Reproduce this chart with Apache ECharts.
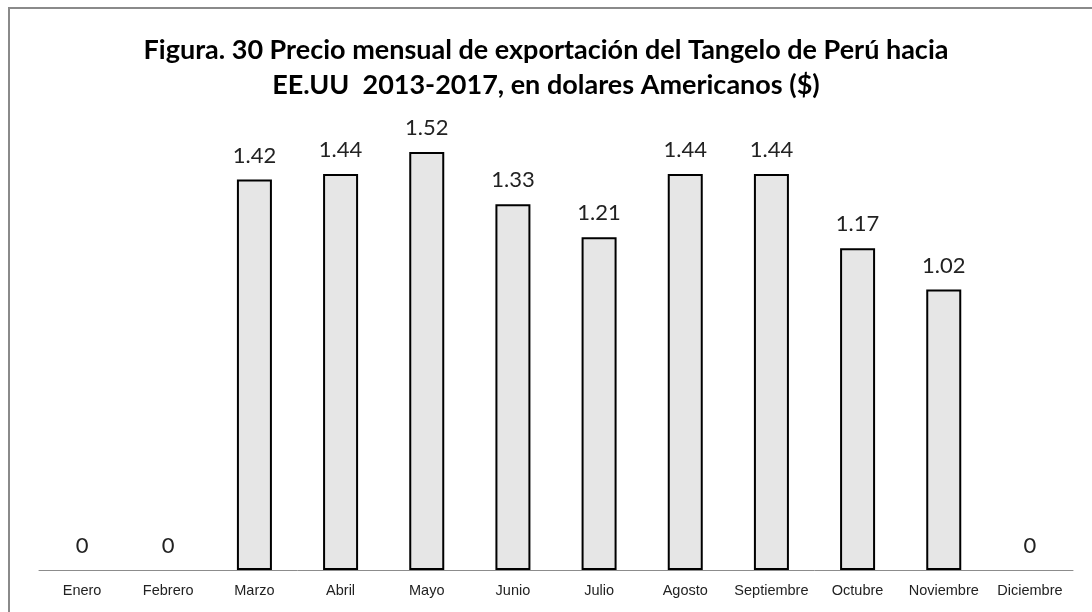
<!DOCTYPE html>
<html>
<head>
<meta charset="utf-8">
<script src="https://cdn.jsdelivr.net/npm/echarts@6/dist/echarts.min.js"></script>
<style>
  html, body { margin: 0; padding: 0; background: #fff; }
  #frame {
    position: absolute; left: 8px; top: 7px; width: 1090px; height: 610px;
    border-left: 2px solid #8a8a8a; border-top: 2px solid #8a8a8a;
  }
  #chart { position: absolute; left: 0; top: 0; width: 1092px; height: 612px; }
</style>
</head>
<body>
<div id="frame"></div>
<div id="chart"></div>
<script>
const months = ['Enero', 'Febrero', 'Marzo', 'Abril', 'Mayo', 'Junio', 'Julio',
  'Agosto', 'Septiembre', 'Octubre', 'Noviembre', 'Diciembre']
const prices = [0, 0, 1.42, 1.44, 1.52, 1.33, 1.21, 1.44, 1.44, 1.17, 1.02, 0]

const chart = echarts.init(document.getElementById('chart'))

// zero months show no bar outline, only the label
const barData = prices.map(v => v === 0
  ? { value: v, itemStyle: { borderWidth: 0 } }
  : v)

const option = {
  animation: false,
  title: {
    text: 'Figura. 30 Precio mensual de exportación del Tangelo de Perú hacia\nEE.UU  2013-2017, en dolares Americanos ($)',
    left: 'center',
    top: 28,
    textStyle: {
      fontFamily: 'Lato',
      fontWeight: 'bold',
      fontSize: 27,
      lineHeight: 35,
      color: '#000'
    }
  },
  grid: {
    left: 39,
    right: 19,
    top: 130,
    bottom: 42
  },
  xAxis: {
    type: 'category',
    data: months,
    axisLine: { lineStyle: { color: '#8c8c8c', width: 1 } },
    axisTick: { show: false },
    axisLabel: {
      color: '#222',
      fontFamily: 'Liberation Sans',
      fontSize: 14.5,
      margin: 13,
      interval: 0
    }
  },
  yAxis: {
    type: 'value',
    min: 0,
    max: 1.6,
    show: false,
    splitLine: { show: false }
  },
  series: [
    {
      type: 'bar',
      data: barData,
      barWidth: 35,
      itemStyle: {
        color: '#e6e6e6',
        borderColor: '#000',
        borderWidth: 2
      },
      label: {
        show: true,
        position: 'top',
        distance: 13,
        color: '#222',
        fontFamily: 'Lato',
        fontSize: 22,
        formatter: p => p.value === 0 ? '0' : p.value.toFixed(2)
      }
    }
  ]
}

chart.setOption(option)
</script>
</body>
</html>
